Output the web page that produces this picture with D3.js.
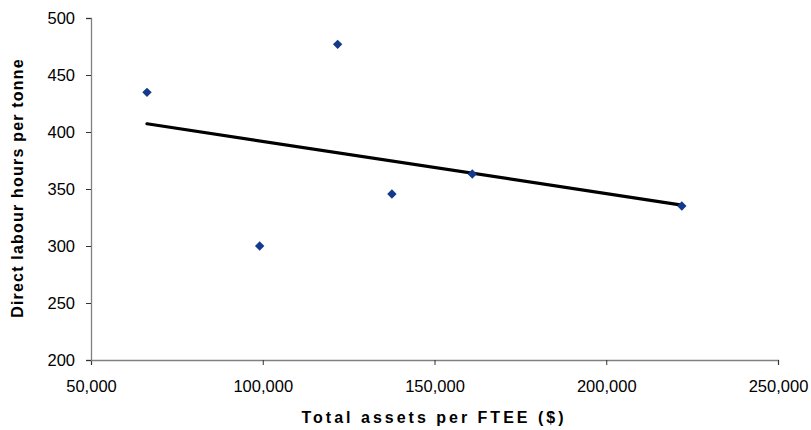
<!DOCTYPE html>
<html>
<head>
<meta charset="utf-8">
<script src="https://cdn.jsdelivr.net/npm/d3@7"></script>
<style>
  html, body { margin: 0; padding: 0; background: #fff; }
  svg { display: block; }
  text { font-family: "Liberation Sans", Arial, sans-serif; fill: #000; }
</style>
</head>
<body>
<svg id="chart" width="811" height="430"></svg>
<script>
// Data
const assetsPerFTEE = [66300, 121800, 99100, 137600, 161000, 222000];
const labourHoursPerTonne = [434.8, 476.9, 300.0, 345.6, 363.2, 335.1];
const xTicks = [50000, 100000, 150000, 200000, 250000];
const yTicks = [200, 250, 300, 350, 400, 450, 500];
const xTitle = "Total assets per FTEE ($)";
const yTitle = "Direct labour hours per tonne";

const svg = d3.select("#chart");
const margin = { left: 91, right: 811 - 778, top: 18, bottom: 430 - 360 };
const W = 811, H = 430;

const x = d3.scaleLinear().domain([50000, 250000]).range([margin.left, W - margin.right]);
const y = d3.scaleLinear().domain([200, 500]).range([H - margin.bottom, margin.top]);

const fmt = d3.format(",");

// X axis
const gx = svg.append("g")
  .attr("transform", `translate(0,${y(200)})`)
  .call(d3.axisBottom(x).tickValues(xTicks).tickFormat(fmt).tickSize(5).tickPadding(15));
// Y axis
const gy = svg.append("g")
  .attr("transform", `translate(${x(50000)},0)`)
  .call(d3.axisLeft(y).tickValues(yTicks).tickSize(5).tickPadding(11));

[gx, gy].forEach(g => {
  g.select(".domain").attr("stroke", "#808080").attr("stroke-width", 1.3);
  g.selectAll(".tick line").attr("stroke", "#333").attr("stroke-width", 1);
  g.selectAll(".tick text")
    .attr("font-family", "'Liberation Sans', Arial, sans-serif")
    .attr("font-size", "16.5px").attr("fill", "#000");
});

// Linear regression trendline
const n = assetsPerFTEE.length;
const mx = d3.mean(assetsPerFTEE), my = d3.mean(labourHoursPerTonne);
let sxy = 0, sxx = 0;
for (let i = 0; i < n; i++) {
  sxy += (assetsPerFTEE[i] - mx) * (labourHoursPerTonne[i] - my);
  sxx += (assetsPerFTEE[i] - mx) ** 2;
}
const slope = sxy / sxx, intercept = my - slope * mx;
const [xmin, xmax] = d3.extent(assetsPerFTEE);
svg.append("line")
  .attr("x1", x(xmin)).attr("y1", y(intercept + slope * xmin))
  .attr("x2", x(xmax)).attr("y2", y(intercept + slope * xmax))
  .attr("stroke", "#000").attr("stroke-width", 3.2).attr("stroke-linecap", "round");

// Points (diamonds)
const diamond = d3.symbol().type(d3.symbolSquare).size(44);
svg.append("g").selectAll("path")
  .data(assetsPerFTEE.map((v, i) => [v, labourHoursPerTonne[i]]))
  .join("path")
  .attr("d", diamond)
  .attr("transform", d => `translate(${x(d[0])},${y(d[1])}) rotate(45)`)
  .attr("fill", "#143a8c");

// Axis titles
svg.append("text")
  .attr("x", 434).attr("y", 423)
  .attr("text-anchor", "middle")
  .attr("font-weight", "bold").attr("font-size", "16px")
  .attr("letter-spacing", "3px")
  .text(xTitle);

svg.append("text")
  .attr("transform", "translate(23,188) rotate(-90)")
  .attr("text-anchor", "middle")
  .attr("font-weight", "bold").attr("font-size", "16px")
  .attr("letter-spacing", "1.2px")
  .text(yTitle);
</script>
</body>
</html>
